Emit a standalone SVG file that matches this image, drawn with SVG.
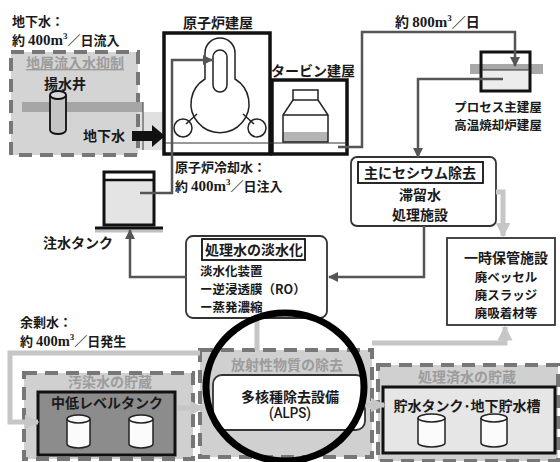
<svg xmlns="http://www.w3.org/2000/svg" width="560" height="462" viewBox="0 0 560 462">
  <defs>
    <style>
      .t { font-family: "Noto Sans CJK JP", "Noto Sans", sans-serif; font-weight: 700; font-size: 14px; fill: #1a1a1a; }
      .s { font-size: 13px; }
      .xs { font-size: 12.5px; }
      .num { font-family: "Liberation Serif", serif; font-weight: 700; }
      .ttl { font-family: "Noto Sans CJK JP", "Noto Sans", sans-serif; font-weight: 700; font-size: 14px; fill: #9c9c9c; }
      .flow { fill: none; stroke: #555; stroke-width: 2.5; }
      .pale { fill: none; stroke: #c6c6c6; stroke-width: 5; }
      .dash { stroke: #777; stroke-width: 4; stroke-dasharray: 13 8; }
      .bld { fill: none; stroke: #111; stroke-width: 3.5; }
      .thin { fill: none; stroke: #222; stroke-width: 1.5; }
      .cyl { fill: #fbfbfb; stroke: #222; stroke-width: 1.5; }
    </style>
    <marker id="ah" viewBox="0 0 10 10" refX="9" refY="5" markerWidth="4" markerHeight="4" orient="auto">
      <path d="M0,0 L10,5 L0,10 Z" fill="#555"/>
    </marker>
    <marker id="ahp" viewBox="0 0 10 10" refX="9" refY="5" markerWidth="3" markerHeight="3" orient="auto">
      <path d="M0,0 L10,5 L0,10 Z" fill="#c6c6c6"/>
    </marker>
  </defs>

  <rect width="560" height="462" fill="#ffffff"/>

  <!-- groundwater suppression area -->
  <g id="groundwater">
    <rect x="138" y="112" width="26" height="38" fill="#e0e0e0"/>
    <rect x="11" y="52" width="127" height="103" fill="#d4d4d4" class="dash"/>
    <rect x="22" y="102" width="121" height="10" fill="#a6a6a6"/>
    <line x1="143" y1="102" x2="143" y2="150" stroke="#555" stroke-width="1.2"/>
    <text x="26" y="68" class="ttl" style="text-decoration:underline">地層流入水抑制</text>
    <text x="44" y="89" class="t">揚水井</text>
    <path d="M50,95 V130 A8,4 0 0 0 66,130 V95" fill="#c4c4c4" stroke="#111" stroke-width="1.8"/>
    <ellipse cx="58" cy="95" rx="8" ry="4" fill="#d8d8d8" stroke="#111" stroke-width="1.8"/>
    <text x="83" y="141" class="t">地下水</text>
    <path d="M132,131 H152 V125 L165,136 L152,147 V141 H132 Z" fill="#111"/>
    <text class="t s"><tspan x="12" y="26">地下水：</tspan><tspan x="12" y="45">約 </tspan><tspan class="num" font-size="15">400m</tspan><tspan class="num" font-size="9" dy="-6">3</tspan><tspan dy="6">／日流入</tspan></text>
  </g>

  <!-- reactor building -->
  <g id="reactor-building">
    <text x="183" y="28" class="t">原子炉建屋</text>
    <rect x="164" y="33" width="106" height="121" class="bld"/>
    <path d="M205,79 V53 A15,15 0 0 1 235,53 V79 A29,29 0 1 1 205,79 Z" class="thin" fill="#fff"/>
    <rect x="213" y="50" width="14" height="42" rx="7" class="thin" fill="#fff"/>
    <circle cx="183" cy="128" r="9" class="thin" fill="#fff"/>
    <circle cx="257" cy="128" r="9" class="thin" fill="#fff"/>
    <line x1="186" y1="124" x2="197" y2="114" class="thin"/>
    <line x1="254" y1="124" x2="243" y2="114" class="thin"/>
    <text class="t s"><tspan x="175" y="172">原子炉冷却水：</tspan><tspan x="175" y="191">約 </tspan><tspan class="num" font-size="15">400m</tspan><tspan class="num" font-size="9" dy="-6">3</tspan><tspan dy="6">／日注入</tspan></text>
  </g>

  <!-- turbine building -->
  <g id="turbine-building">
    <text x="271" y="76" class="t">タービン建屋</text>
    <rect x="272" y="80" width="75" height="74" class="bld"/>
    <rect x="283" y="132" width="45" height="10" fill="#b4b4b4"/>
    <path d="M293,90 H318 V100 L328,115 V142 H283 V115 L293,100 Z" fill="none" stroke="#222" stroke-width="1.5"/>
    <line x1="293" y1="100" x2="318" y2="100" class="thin"/>
    <line x1="283" y1="115" x2="328" y2="115" class="thin"/>
    <line x1="165" y1="143" x2="347" y2="143" stroke="#333" stroke-width="1.2"/>
  </g>

  <!-- process / incinerator building -->
  <g id="process-building">
    <text x="395" y="27" class="t">約 <tspan class="num" font-size="15">800m</tspan><tspan class="num" font-size="9" dy="-6">3</tspan><tspan dy="6">／日</tspan></text>
    <rect x="470" y="64" width="73" height="10" fill="#a8a8a8"/>
    <rect x="481" y="70" width="49" height="21" fill="#ececec"/>
    <rect x="481" y="52" width="49" height="39" fill="none" stroke="#111" stroke-width="3"/>
    <line x1="481" y1="70" x2="530" y2="70" stroke="#333" stroke-width="1.2"/>
    <text class="t xs" text-anchor="middle"><tspan x="498" y="112">プロセス主建屋</tspan><tspan x="498" y="130">高温焼却炉建屋</tspan></text>
  </g>

  <!-- water injection tank -->
  <g id="injection-tank">
    <rect x="104" y="180" width="50" height="45" fill="#e4e4e4"/>
    <rect x="104" y="172" width="50" height="53" fill="none" stroke="#111" stroke-width="3"/>
    <line x1="104" y1="180" x2="154" y2="180" stroke="#111" stroke-width="2.5"/>
    <line x1="95" y1="231" x2="163" y2="231" stroke="#c0c0c0" stroke-width="3"/>
    <line x1="95" y1="228" x2="163" y2="228" stroke="#111" stroke-width="3"/>
    <text x="43" y="248" class="t">注水タンク</text>
  </g>

  <!-- cesium removal -->
  <g id="cesium-removal">
    <rect x="351" y="157" width="145" height="69" rx="6" fill="#fff" stroke="#333" stroke-width="1.8"/>
    <rect x="358" y="162" width="125" height="21" fill="#fff" stroke="#111" stroke-width="1.8"/>
    <text x="420" y="178" class="t" text-anchor="middle">主にセシウム除去</text>
    <text class="t" text-anchor="middle" font-size="13.5"><tspan x="420" y="200">滞留水</tspan><tspan x="420" y="219.5">処理施設</tspan></text>
  </g>

  <!-- temporary storage -->
  <g id="temporary-storage">
    <rect x="447" y="238" width="108" height="87" fill="#fff" stroke="#333" stroke-width="1.8"/>
    <text class="t xs" text-anchor="middle"><tspan x="506" y="263" font-size="14">一時保管施設</tspan><tspan x="506" y="282">廃ベッセル</tspan><tspan x="506" y="300">廃スラッジ</tspan><tspan x="506" y="318">廃吸着材等</tspan></text>
  </g>

  <!-- desalination -->
  <g id="desalination">
    <rect x="186" y="236" width="141" height="82" rx="7" fill="#fff" stroke="#333" stroke-width="1.8"/>
    <rect x="202" y="239" width="103" height="21" fill="#fff" stroke="#111" stroke-width="1.8"/>
    <text x="254" y="255" class="t" text-anchor="middle">処理水の淡水化</text>
    <text class="t xs"><tspan x="200" y="276">淡水化装置</tspan><tspan x="200" y="294">ー逆浸透膜（RO）</tspan><tspan x="200" y="312">ー蒸発濃縮</tspan></text>
  </g>

  <!-- surplus water note -->
  <g id="surplus-note">
    <text class="t s"><tspan x="20" y="327">余剰水：</tspan><tspan x="20" y="346">約 </tspan><tspan class="num" font-size="14.5">400m</tspan><tspan class="num" font-size="9" dy="-6">3</tspan><tspan dy="6">／日発生</tspan></text>
  </g>

  <!-- contaminated water storage -->
  <g id="contaminated-storage">
    <rect x="24" y="373" width="169" height="86" fill="#d0d0d0" class="dash"/>
    <text x="110" y="387" class="ttl" text-anchor="middle">汚染水の貯蔵</text>
    <rect x="38" y="392" width="137" height="63" fill="#8c8c8c" stroke="#111" stroke-width="3"/>
    <text x="107" y="408" class="t" text-anchor="middle">中低レベルタンク</text>
    <path d="M67,419 V444 A11.5,4 0 0 0 90,444 V419" class="cyl"/>
    <ellipse cx="78.5" cy="419" rx="11.5" ry="4" class="cyl"/>
    <path d="M129,419 V444 A12,4 0 0 0 153,444 V419" class="cyl"/>
    <ellipse cx="141" cy="419" rx="12" ry="4" class="cyl"/>
  </g>

  <!-- ALPS -->
  <g id="alps">
    <rect x="200" y="350" width="172" height="107" fill="#d0d0d0" class="dash"/>
    <text x="287" y="370" class="ttl" text-anchor="middle">放射性物質の除去</text>
    <rect x="213" y="375" width="152" height="55" rx="9" fill="#fff" stroke="#333" stroke-width="1.8"/>
    <text x="290" y="402" class="t" text-anchor="middle" font-size="15">多核種除去設備</text>
    <text x="290" y="418" font-family="Roboto, 'Liberation Sans', sans-serif" font-size="14" font-weight="500" fill="#1a1a1a" text-anchor="middle" textLength="42" lengthAdjust="spacingAndGlyphs">(ALPS)</text>
  </g>

  <!-- treated water storage -->
  <g id="treated-storage">
    <rect x="378" y="365" width="180" height="96" fill="#d0d0d0" class="dash"/>
    <text x="467" y="382" class="ttl" text-anchor="middle">処理済水の貯蔵</text>
    <rect x="383" y="387" width="172" height="66" fill="#e6e6e6" stroke="#111" stroke-width="3"/>
    <text x="467" y="411" class="t" text-anchor="middle">貯水タンク･地下貯水槽</text>
    <path d="M418,418 V443 A13.5,4 0 0 0 445,443 V418" class="cyl"/>
    <ellipse cx="431.5" cy="418" rx="13.5" ry="4" class="cyl"/>
    <path d="M481,418 V443 A13,4 0 0 0 507,443 V418" class="cyl"/>
    <ellipse cx="494" cy="418" rx="13" ry="4" class="cyl"/>
  </g>

  <!-- connectors -->
  <g id="connectors">
    <path d="M140,193 H172 V60 H212" class="flow" marker-end="url(#ah)"/>
    <path d="M338,147 H362 V32 H515 V66" class="flow" marker-end="url(#ah)"/>
    <path d="M503,79 H418 V157" class="flow" marker-end="url(#ah)"/>
    <path d="M424,226 V277 H329" class="flow" marker-end="url(#ah)"/>
    <path d="M187,277 H130 V230" class="flow" marker-end="url(#ah)"/>
    <path d="M496,192 H503 V236" class="pale" marker-end="url(#ahp)"/>
    <path d="M257,318 V350" class="pale"/>
    <path d="M200,353 H10 V422 H38" class="pale" marker-end="url(#ahp)"/>
    <path d="M177,408 H203" class="pale" marker-end="url(#ahp)"/>
    <path d="M365,405 H384" class="pale" marker-end="url(#ahp)"/>
    <path d="M372,343 H505 V327" class="pale" marker-end="url(#ahp)"/>
  </g>

  <!-- highlight ring around ALPS -->
  <g id="alps-ring">
    <ellipse cx="285" cy="387" rx="79" ry="74" fill="none" stroke="#000" stroke-width="7"/>
  </g>
</svg>
